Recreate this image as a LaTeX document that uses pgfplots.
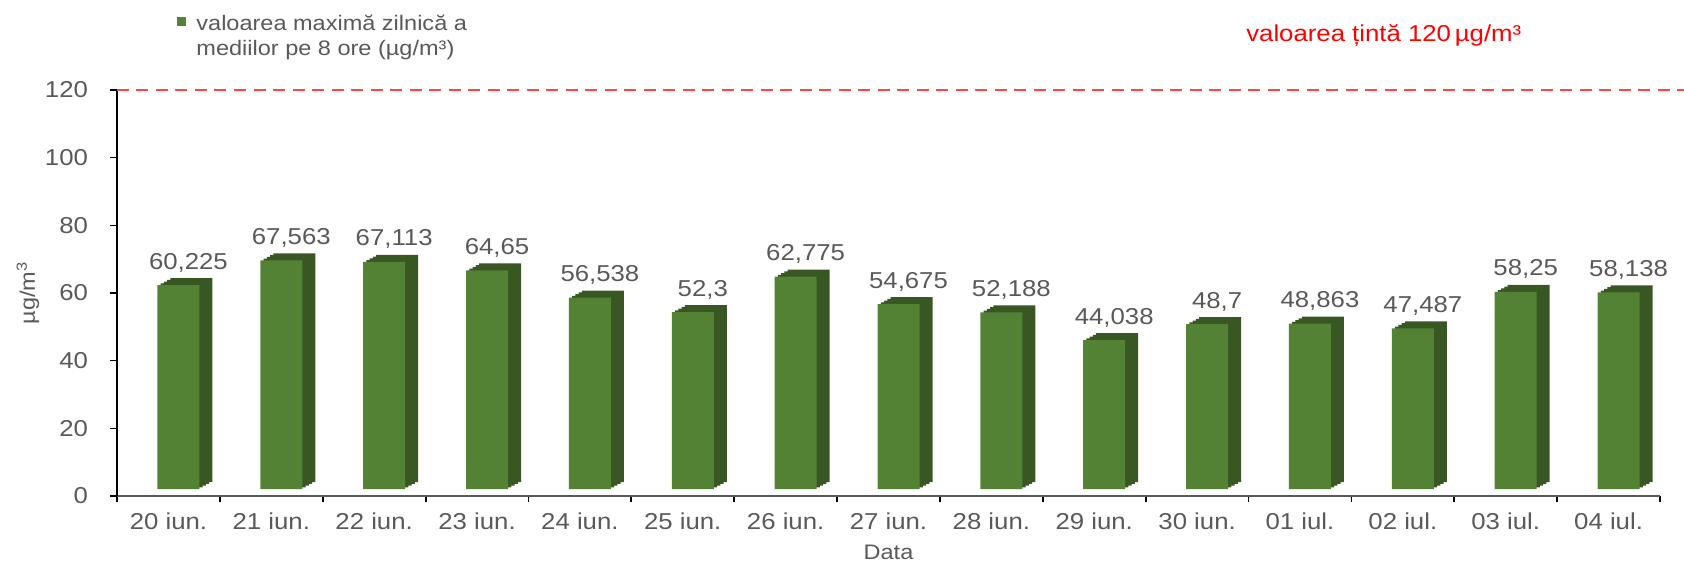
\documentclass[border=0pt]{standalone}
\usepackage{pgfplots}
\pgfplotsset{compat=1.18}
\usepackage{pgfplotstable}
\usepackage{fontspec}
\setmainfont{Liberation Sans}[FakeStretch=1.12]
\definecolor{barfront}{HTML}{548235}
\definecolor{barside}{HTML}{385723}
\definecolor{txt}{HTML}{595959}
\definecolor{tgt}{HTML}{FF4545}

\pgfplotstableread{
x y lab
0 60.225 60,225
1 67.563 67,563
2 67.113 67,113
3 64.65 64,65
4 56.538 56,538
5 52.3 52,3
6 62.775 62,775
7 54.675 54,675
8 52.188 52,188
9 44.038 44,038
10 48.7 48,7
11 48.863 48,863
12 47.487 47,487
13 58.25 58,25
14 58.138 58,138
}\datatable

\begin{document}
\begin{tikzpicture}
\path[use as bounding box] (-58.5pt,-33.5pt) rectangle (783.5pt,248pt);
\begin{axis}[
  at={(0,0)}, anchor=south west,
  scale only axis, width=771.5pt, height=203pt,
  xmin=-0.5, xmax=14.5, ymin=0, ymax=120,
  clip=false,
  axis x line*=bottom, axis y line*=left,
  axis line style={-},
  x axis line style={draw=txt, line width=1.3pt},
  y axis line style={draw=black, line width=0.8pt},
  /pgf/number format/assume math mode=true,
  ytick={0,20,...,120},
  tick align=outside,
  major tick length=3.5pt,
  minor tick length=3pt,
  ytick style={black, line width=0.8pt},
  every major x tick/.append style={draw=none},
  yticklabel style={xshift=-7.5pt},
  xtick={0,...,14},
  xticklabels={20 iun.,21 iun.,22 iun.,23 iun.,24 iun.,25 iun.,26 iun.,27 iun.,28 iun.,29 iun.,30 iun.,01 iul.,02 iul.,03 iul.,04 iul.},
  minor xtick={-0.5,0.5,...,14.5},
  every minor x tick/.append style={black, line width=0.9pt},
  xticklabel style={yshift=-1.5pt},
  ticklabel style={font=\fontsize{11.5}{13.5}\selectfont, text=txt},
  xlabel={Data},
  xlabel style={at={(axis description cs:0.5,-0.138)}, anchor=center, font=\fontsize{10.5}{12.5}\selectfont, text=txt},
  ylabel={µg/m\textsuperscript{3}},
  ylabel style={at={(axis description cs:-0.0577,0.5)}, anchor=center, font=\fontsize{10.5}{12.5}\selectfont, text=txt},
  legend style={at={(axis description cs:0.0389,1.190)}, anchor=north west, draw=none, fill=none,
    inner sep=0pt, font=\fontsize{10.5}{12.5}\selectfont, text=txt, nodes={inner sep=0pt},
    column sep=5pt},
  legend cell align=left,
]
\addplot[tgt, line width=1.4pt, dash pattern=on 6pt off 3.75pt, forget plot] coordinates {(-0.5,120) (14.8,120)};
\addplot[ybar, bar width=21pt, bar shift=11.5pt, fill=barside, draw=none, yshift=7pt, forget plot]
  table[x=x, y=y] {\datatable};
\addplot[ybar, bar width=21pt, bar shift=9.875pt, fill=barside, draw=none, yshift=6.125pt, forget plot]
  table[x=x, y=y] {\datatable};
\addplot[ybar, bar width=21pt, bar shift=8.25pt, fill=barside, draw=none, yshift=5.25pt, forget plot]
  table[x=x, y=y] {\datatable};
\addplot[ybar, bar width=21pt, bar shift=6.625pt, fill=barside, draw=none, yshift=4.375pt, forget plot]
  table[x=x, y=y] {\datatable};
\addplot[ybar, bar width=21pt, bar shift=5pt, fill=barfront, draw=none, yshift=3.5pt,
  nodes near coords, point meta=explicit symbolic,
  nodes near coords style={font=\fontsize{11.5}{13.5}\selectfont, text=txt, anchor=base, inner sep=0pt, xshift=10pt, yshift=8pt},
  legend image code/.code={\fill[barfront] (0pt,-4.95pt) rectangle (4.5pt,-0.45pt);}]
  table[x=x, y=y, meta=lab] {\datatable};
\addlegendentry{\begin{tabular}[t]{@{}l@{}}valoarea maximă zilnică a\\mediilor pe 8 ore (µg/m³)\end{tabular}}
\node[text=red, font=\fontsize{11.5}{13}\selectfont] at (axis description cs:0.821,1.135) {valoarea țintă 120\,µg/m³};
\end{axis}
\end{tikzpicture}
\end{document}
